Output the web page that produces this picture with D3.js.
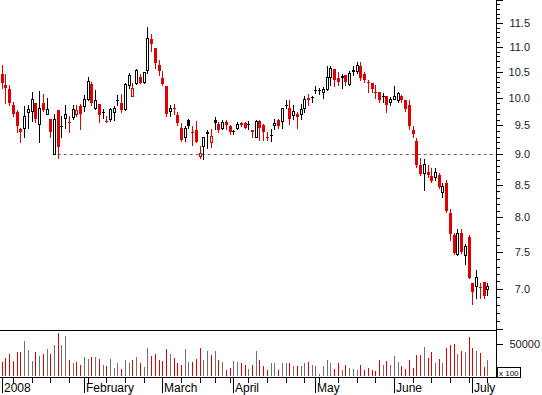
<!DOCTYPE html>
<html><head><meta charset="utf-8">
<script src="https://cdn.jsdelivr.net/npm/d3@7"></script>
<style>html,body{margin:0;padding:0;background:#fff}svg{display:block}</style>
</head><body>
<script>
// ---------- data ----------
const firstDay = "2008-01-02";
const lastDay = "2008-07-07";
const holidays = ["2008-01-01","2008-03-21","2008-03-24","2008-05-01"];

const open = [
10.46,10.24,10.17,9.86,9.73,9.43,9.46,9.73,9.75,9.91,
9.52,9.91,9.71,9.61,9.00,9.77,9.49,9.63,9.55,9.64,
9.70,9.84,
9.84,9.98,10.26,9.82,9.89,9.74,9.57,9.61,9.73,9.96,
9.91,9.79,10.24,10.04,10.28,10.39,10.30,10.54,11.16,10.97,
10.64,
10.37,10.22,9.75,9.82,9.68,9.45,9.29,9.59,9.36,9.41,
8.97,9.14,9.38,9.20,9.59,9.52,9.46,9.55,9.48,
9.40,9.46,9.54,9.54,9.53,9.41,9.30,9.57,9.50,9.30,
9.33,9.50,9.59,9.57,9.87,9.82,9.68,9.71,9.70,9.82,
10.00,10.01,
10.14,10.15,10.11,10.17,10.39,10.56,10.37,10.41,10.43,10.26,
10.54,10.52,10.62,10.46,10.29,10.28,10.11,10.11,10.03,10.04,
9.93,
9.98,9.95,10.04,9.95,9.87,9.41,9.23,8.82,8.69,8.71,
8.65,8.63,8.66,8.39,8.53,8.06,7.74,7.47,7.77,7.46,
7.71,
7.08,7.04,7.03,7.09,7.00];
const high = [
10.64,10.46,10.24,9.93,9.77,9.46,9.84,9.87,10.11,9.91,
10.13,10.07,10.00,9.61,9.70,9.77,9.66,9.86,9.66,9.87,
9.87,9.89,
10.06,10.39,10.30,10.15,9.89,9.79,9.66,9.82,9.84,10.06,
10.07,10.28,10.48,10.28,10.56,10.46,10.50,11.41,11.27,10.97,
10.72,
10.52,10.22,9.87,9.89,9.73,9.54,9.48,9.61,9.48,9.57,
9.14,9.30,9.41,9.43,9.64,9.55,9.59,9.59,9.50,
9.41,9.55,9.55,9.55,9.57,9.41,9.59,9.59,9.52,9.38,
9.43,9.61,9.61,9.82,9.96,9.95,9.86,9.73,9.89,10.04,
10.07,10.04,
10.22,10.18,10.20,10.62,10.62,10.56,10.50,10.46,10.43,10.52,
10.62,10.68,10.68,10.50,10.33,10.28,10.24,10.11,10.09,10.04,
10.02,
10.22,10.11,10.06,9.96,9.96,9.48,9.27,8.94,8.92,8.82,
8.77,8.77,8.69,8.53,8.58,8.12,7.77,7.83,7.83,7.62,
7.74,
7.08,7.25,7.08,7.09,7.08];
const low = [
10.18,9.91,9.87,9.66,9.38,9.20,9.30,9.46,9.57,9.55,
9.21,9.75,9.70,9.29,9.00,8.94,9.29,9.45,9.39,9.61,
9.66,9.43,
9.75,9.96,9.87,9.79,9.55,9.63,9.55,9.57,9.59,9.86,
9.73,9.77,10.18,10.04,10.26,10.28,10.28,10.48,10.91,10.58,
10.43,
10.24,9.66,9.66,9.71,9.50,9.23,9.23,9.46,9.16,9.20,
8.94,8.92,9.11,9.13,9.43,9.39,9.43,9.43,9.34,
9.34,9.43,9.48,9.45,9.43,9.29,9.29,9.25,9.25,9.25,
9.23,9.43,9.46,9.46,9.82,9.52,9.61,9.46,9.61,9.73,
9.86,9.93,
10.09,10.07,10.00,10.15,10.24,10.22,10.24,10.18,10.24,10.24,
10.43,10.48,10.33,10.30,10.11,10.11,10.00,9.93,9.93,9.73,
9.86,
9.98,9.93,9.93,9.75,9.43,9.29,8.79,8.66,8.42,8.63,
8.54,8.58,8.45,8.31,8.08,7.67,7.47,7.46,7.49,7.34,
7.14,
6.81,6.89,6.88,6.89,6.92];
const close = [
10.28,10.18,9.91,9.71,9.48,9.39,9.66,9.79,9.98,9.61,
9.82,9.77,9.80,9.38,9.61,9.13,9.47,9.71,9.54,9.79,
9.77,9.70,
9.98,10.31,9.91,9.96,9.68,9.72,9.55,9.80,9.82,9.94,
9.77,10.26,10.44,10.18,10.54,10.28,10.50,11.18,11.05,10.66,
10.52,
10.26,9.70,9.82,9.80,9.54,9.25,9.45,9.48,9.39,9.21,
9.02,9.29,9.34,9.32,9.54,9.41,9.55,9.50,9.38,
9.39,9.52,9.50,9.46,9.52,9.38,9.57,9.46,9.38,9.29,
9.32,9.54,9.48,9.82,9.85,9.61,9.75,9.64,9.80,9.98,
9.95,9.99,
10.13,10.14,10.17,10.39,10.58,10.33,10.30,10.37,10.30,10.48,
10.50,10.64,10.37,10.33,10.28,10.17,10.09,9.95,10.02,9.87,
9.98,
10.04,10.09,9.96,9.79,9.48,9.34,8.82,8.68,8.84,8.66,
8.56,8.71,8.47,8.48,8.09,7.76,7.49,7.77,7.50,7.59,
7.15,
6.96,7.16,7.01,6.91,7.04];
const volume = [
21700,28300,34200,23400,37500,37500,55400,40800,23400,37500,
31000,34200,42400,34200,48900,66800,48900,62000,24500,19600,
21200,17900,29300,26100,29300,29300,26100,17900,16300,26100,
13000,19600,11400,24500,19600,24500,29300,19600,14700,44000,
31000,34200,24500,22800,42400,34200,27700,19600,17900,42400,
21200,21200,26100,44000,24500,39100,32600,39100,24500,21200,
9800,13000,22800,21200,19600,17900,11400,17900,39100,24500,
16300,9800,19600,19600,9800,19600,19600,19600,16300,16300,
16300,19600,21200,17900,16300,3300,16300,24500,19600,11400,
19600,9800,17900,13000,11400,9800,17900,9800,13000,9800,
8200,24500,17900,22800,17900,31000,21200,16300,11400,24500,
13000,32600,32600,45700,27700,37500,19600,26100,19600,44000,
48900,50500,34200,39100,37500,60300,44000,39100,35900,14700,
24500];
const priceLabels = [7.0,7.5,8.0,8.5,9.0,9.5,10.0,10.5,11.0,11.5];
const supportLevel = 9.0;
const supportFromDay = 15;
const volumeLabels = [50000];
const volumeUnit = "x 100";
const monthNames = ["2008","February","March","April","May","June","July"];

// ---------- trading calendar ----------
const parse = d3.timeParse("%Y-%m-%d"), fmt = d3.timeFormat("%Y-%m-%d");
const hol = new Set(holidays);
const dates = d3.timeDay.range(parse(firstDay), d3.timeDay.offset(parse(lastDay),1))
  .filter(d => d.getDay() !== 0 && d.getDay() !== 6 && !hol.has(fmt(d)));

// ---------- layout ----------
const W = 542, H = 395;
const axisX = 496;
const mainTop = 0, mainBottom = 330, volBottom = 377;
const RED = "#e00000", GREY = "#707070";

const svg = d3.select("body").append("svg").attr("width", W).attr("height", H)
  .style("font-family", "Arial, 'Liberation Sans', Helvetica, sans-serif");

const x = d3.scaleLinear().domain([0, dates.length - 1]).range([1.7, 487.3]);
const y = d3.scaleLog().domain([6.485, 12.0]).range([mainBottom, mainTop]);
const yv = d3.scaleLinear().domain([0, 50000]).range([376, 344]);

const days = dates.map((d, i) => ({
  i, date: d, o: open[i], h: high[i], l: low[i], c: close[i], v: volume[i],
  down: i > 0 ? close[i] < close[i-1] : close[i] < open[i],
  hollow: close[i] > open[i]
}));
const cx = d => Math.round(x(d.i));

// support line (dashed)
svg.append("line")
  .attr("x1", x(supportFromDay)).attr("x2", axisX)
  .attr("y1", Math.round(y(supportLevel)) + 0.5).attr("y2", Math.round(y(supportLevel)) + 0.5)
  .attr("stroke", "#666").attr("stroke-dasharray", "3,3");

// candles
const g = svg.append("g").attr("shape-rendering", "crispEdges");
g.selectAll("line.wick").data(days).join("line").attr("class","wick")
  .attr("x1", d => cx(d) + 0.5).attr("x2", d => cx(d) + 0.5)
  .attr("y1", d => Math.round(y(d.h))).attr("y2", d => Math.round(y(d.l)) + 1)
  .attr("stroke", d => d.down ? RED : "#000");
g.selectAll("rect.body").data(days).join("rect").attr("class","body")
  .each(function(d) {
    const t = Math.round(y(Math.max(d.o, d.c))), b = Math.round(y(Math.min(d.o, d.c)));
    const col = d.down ? RED : "#000";
    const s = d3.select(this);
    if (d.hollow && b - t >= 2) {
      s.attr("x", cx(d) - 1 + 0.5).attr("width", 2)
       .attr("y", t + 0.5).attr("height", b - t)
       .attr("fill", "#fff").attr("stroke", col);
    } else {
      s.attr("x", cx(d) - 1).attr("width", 3)
       .attr("y", t).attr("height", Math.max(1, b - t))
       .attr("fill", col);
    }
  });

// volume
g.selectAll("line.vol").data(days).join("line").attr("class","vol")
  .attr("x1", d => cx(d) + 0.5).attr("x2", d => cx(d) + 0.5)
  .attr("y1", d => Math.round(yv(d.v))).attr("y2", yv(0))
  .attr("stroke", d => d.down ? RED : GREY);

// frame lines
const frame = svg.append("g").attr("shape-rendering", "crispEdges").attr("stroke", "#000");
frame.append("line").attr("x1", 0).attr("x2", axisX).attr("y1", mainBottom + 0.5).attr("y2", mainBottom + 0.5);
frame.append("line").attr("x1", axisX + 0.5).attr("x2", axisX + 0.5).attr("y1", 0).attr("y2", volBottom + 1);
frame.append("line").attr("x1", 0).attr("x2", axisX + 1).attr("y1", volBottom + 0.5).attr("y2", volBottom + 0.5);

// price axis ticks
const minorTicks = d3.range(65, 121).map(v => v / 10);
frame.selectAll("line.ptick").data(minorTicks).join("line").attr("class","ptick")
  .attr("x1", axisX).attr("x2", v => axisX + (Math.abs(v * 2 - Math.round(v * 2)) < 1e-6 ? 7 : 4))
  .attr("y1", v => Math.round(y(v)) + 0.5).attr("y2", v => Math.round(y(v)) + 0.5);
svg.selectAll("text.plabel").data(priceLabels).join("text").attr("class","plabel")
  .attr("x", 530).attr("y", v => y(v) + 4).attr("text-anchor", "end")
  .attr("font-size", 11).attr("fill", "#222").text(d3.format(".1f"));

// volume axis
frame.selectAll("line.vtick").data(volumeLabels).join("line").attr("class","vtick")
  .attr("x1", axisX).attr("x2", axisX + 7)
  .attr("y1", v => Math.round(yv(v)) + 0.5).attr("y2", v => Math.round(yv(v)) + 0.5);
svg.selectAll("text.vlabel").data(volumeLabels).join("text").attr("class","vlabel")
  .attr("x", 540).attr("y", v => yv(v) + 4).attr("text-anchor", "end")
  .attr("font-size", 11).attr("fill", "#222").text(d => d);
svg.append("rect").attr("x", 497.5).attr("y", 367.5).attr("width", 23).attr("height", 10)
  .attr("fill", "#fff").attr("stroke", "#000").attr("shape-rendering", "crispEdges");
svg.append("text").attr("x", 499).attr("y", 375.5).attr("font-size", 8).attr("fill", "#000").text(volumeUnit);

// date axis
const monthStarts = days.filter((d, i) => i === 0 || d.date.getMonth() !== days[i-1].date.getMonth());
const weekStarts = days.filter((d, i) => i > 0 && d.date.getMonth() === days[i-1].date.getMonth() && d3.timeMonday.floor(d.date) > days[i-1].date);
frame.selectAll("line.wtick").data(weekStarts).join("line").attr("class","wtick")
  .attr("x1", d => cx(d) + 0.5).attr("x2", d => cx(d) + 0.5)
  .attr("y1", volBottom).attr("y2", volBottom + 6);
frame.selectAll("line.mtick").data(monthStarts).join("line").attr("class","mtick")
  .attr("x1", d => cx(d) + 0.5).attr("x2", d => cx(d) + 0.5)
  .attr("y1", volBottom).attr("y2", volBottom + 16);
svg.selectAll("text.mlabel").data(monthStarts).join("text").attr("class","mlabel")
  .attr("x", d => cx(d) + 2).attr("y", 392).attr("font-size", 12).attr("fill", "#000")
  .text((d, i) => monthNames[i]);
</script>
</body></html>
